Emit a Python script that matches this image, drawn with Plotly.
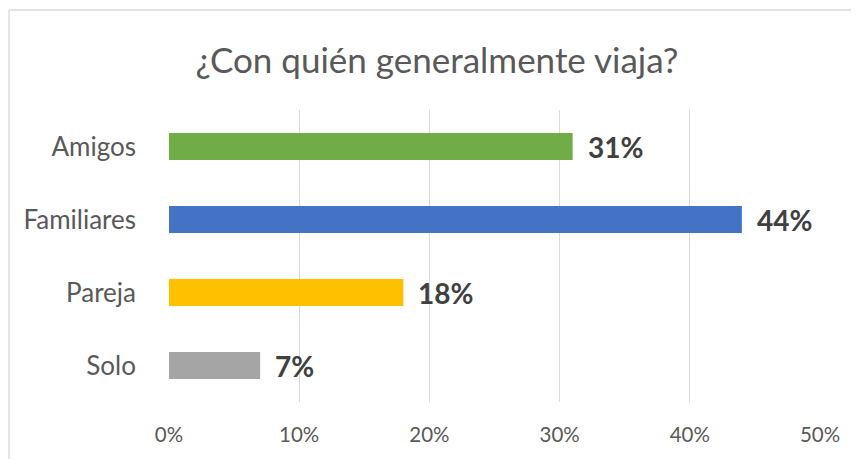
import plotly.graph_objects as go

categories = ["Solo", "Pareja", "Familiares", "Amigos"]
values = [7, 18, 44, 31]
labels = ["7%", "18%", "44%", "31%"]
colors = ["#A5A5A5", "#FFC000", "#4472C4", "#70AD47"]
tick_vals = [0, 10, 20, 30, 40, 50]
tick_text = ["0%", "10%", "20%", "30%", "40%", "50%"]
title = "¿Con quién generalmente viaja?"

FONT = "Lato, 'Open Sans', sans-serif"

fig = go.Figure(go.Bar(
    y=categories, x=values, orientation="h",
    marker=dict(color=colors, line=dict(width=0)),
    hoverinfo="skip",
))

annotations = [
    dict(x=v, y=c, xref="x", yref="y", text=t, showarrow=False,
         xanchor="left", yanchor="middle", xshift=13,
         font=dict(family=FONT, size=28, color="#404040", weight="bold"))
    for c, v, t in zip(categories, values, labels)
]

fig.update_layout(
    width=851, height=451,
    margin=dict(l=161, r=39, t=102, b=57),
    paper_bgcolor="white", plot_bgcolor="white",
    bargap=0.63,
    showlegend=False,
    title=dict(text=title, x=(437 - 8) / 851, xref="container", xanchor="center",
               y=1 - 53 / 451, yanchor="middle", yref="container",
               font=dict(family=FONT, size=35, color="#595959")),
    xaxis=dict(range=[0, 50], tickvals=tick_vals, ticktext=tick_text,
               showgrid=True, gridcolor="#D9D9D9", gridwidth=1.3,
               zeroline=False, showline=False, ticks="",
               ticklabelstandoff=18,
               tickfont=dict(family=FONT, size=20.5, color="#595959")),
    yaxis=dict(showgrid=False, zeroline=False, showline=False, ticks="",
               ticklabelstandoff=32,
               tickfont=dict(family=FONT, size=26, color="#595959")),
    annotations=annotations,
    shapes=[
        dict(type="line", xref="paper", yref="paper",
             x0=(9 - 169) / 651, x1=(880 - 169) / 651,
             y0=(402 - 10) / 292, y1=(402 - 10) / 292,
             line=dict(color="#D9D9D9", width=1.3)),
        dict(type="line", xref="paper", yref="paper",
             x0=(9 - 169) / 651, x1=(9 - 169) / 651,
             y0=(402 - 10) / 292, y1=(402 - 480) / 292,
             line=dict(color="#D9D9D9", width=1.3)),
    ],
)

fig.write_html("out.html")
